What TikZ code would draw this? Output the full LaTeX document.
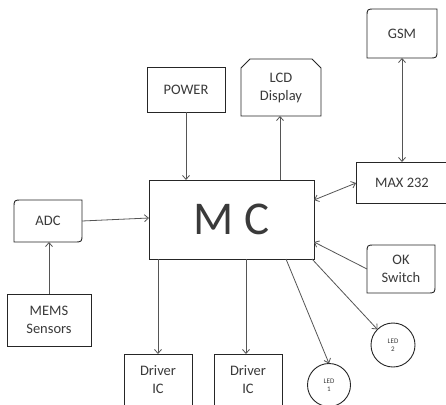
\documentclass[tikz,border=0pt]{standalone}
\usepackage{fontspec}
\setmainfont{Carlito}
\usetikzlibrary{arrows.meta,calc}
\definecolor{txt}{HTML}{3A3A3A}
\definecolor{ln}{HTML}{555555}
\definecolor{bd}{HTML}{262626}
\begin{document}
\begin{tikzpicture}[x=1pt,y=-1pt,
  lbl/.style={text=txt,font=\fontsize{14.5}{18}\selectfont,align=center,inner sep=0pt,outer sep=0pt},
  box/.style={lbl,draw=bd,line width=0.9pt,fill=white},
  plain/.style={lbl},
  outline/.style={draw=bd,line width=0.9pt},
  led/.style={circle,draw=bd,line width=0.9pt,text=txt,font=\fontsize{7}{8.5}\selectfont,align=center,inner sep=0pt,outer sep=0pt,minimum size=44pt},
  arr/.style={draw=ln,line width=0.8pt,-{Straight Barb[length=4pt,width=7pt]}},
  darr/.style={draw=ln,line width=0.8pt,{Straight Barb[length=4pt,width=7pt]}-{Straight Barb[length=4pt,width=7pt]}}
]
\useasboundingbox (0,0) rectangle (446,404);
\fill[white] (0,0) rectangle (446,404);

% rectangular boxes
\node[box,minimum width=78pt,minimum height=45pt] (power) at (186,89.5) {POWER};
\node[box,minimum width=92pt,minimum height=41pt] (max) at (402,182.5) {MAX 232};
\node[box,minimum width=165pt,minimum height=79pt,font=\fontsize{47}{50}\selectfont] (mc) at (231.5,219.5) {M C};
\node[box,minimum width=84pt,minimum height=52pt] (mems) at (49,320) {MEMS\\Sensors};
\node[box,minimum width=68pt,minimum height=52pt] (d1) at (158,380) {Driver\\IC};
\node[box,minimum width=68pt,minimum height=52pt] (d2) at (248,380) {Driver\\IC};

% shaped boxes (text nodes + outlines)
\node[plain,minimum width=80pt,minimum height=57pt] (lcd) at (281,87.5) {LCD\\Display};
\draw[outline] (lcd.south west) -- ($(lcd.north west)+(0,9)$) -- ($(lcd.north west)+(9,0)$)
  -- ($(lcd.north east)+(-9,0)$) -- ($(lcd.north east)+(0,9)$) -- (lcd.south east) -- cycle;

\node[plain,minimum width=70pt,minimum height=49pt] (gsm) at (402,33.5) {GSM};
\draw[outline] ($(gsm.north west)+(0,8)$) .. controls (gsm.north west) .. ($(gsm.north west)+(8,0)$)
  -- (gsm.north east) -- ($(gsm.south east)+(0,-8)$) .. controls (gsm.south east) .. ($(gsm.south east)+(-8,0)$)
  -- (gsm.south west) -- cycle;

\node[plain,minimum width=68pt,minimum height=42pt] (adc) at (48,221) {ADC};
\draw[outline] ($(adc.north west)+(0,8)$) .. controls (adc.north west) .. ($(adc.north west)+(8,0)$)
  -- (adc.north east) -- ($(adc.south east)+(0,-8)$) .. controls (adc.south east) .. ($(adc.south east)+(-8,0)$)
  -- (adc.south west) -- cycle;

\node[plain,minimum width=68pt,minimum height=48pt] (ok) at (401,269) {OK\\Switch};
\draw[outline] ($(ok.north west)+(0,8)$) .. controls (ok.north west) .. ($(ok.north west)+(8,0)$)
  -- (ok.north east) -- ($(ok.south east)+(0,-8)$) .. controls (ok.south east) .. ($(ok.south east)+(-8,0)$)
  -- (ok.south west) -- cycle;

% LEDs
\node[led] (led2) at (393,345) {LED\\2};
\node[led,minimum size=43pt] (led1) at (329,385) {LED\\1};

% connector end points on MC
\coordinate (lcdin) at ($(mc.north west)+(131,0)$);
\coordinate (d2out) at ($(mc.south west)+(97,0)$);
\coordinate (maxp) at ($(mc.north east)+(0,20)$);
\coordinate (adcp) at ($(mc.north west)+(0,38)$);
\coordinate (led1p) at ($(mc.south east)+(-28,0)$);
\coordinate (led2p) at ($(mc.south east)+(-2,0)$);
\coordinate (okp) at ($(mc.north east)+(0,62)$);
\coordinate (maxin) at ($(max.north west)+(0,21)$);

% connectors
\draw[arr] (power.south) -- (power.south |- mc.north);
\draw[arr] (lcdin) -- (lcdin |- lcd.south);
\draw[darr] (gsm.south) -- (gsm.south |- max.north);
\draw[darr] (maxp) -- (maxin);
\draw[arr] (adc.east) -- (adcp);
\draw[arr] (mems.north) -- (mems.north |- adc.south);
\draw[arr] (d1.north |- mc.south) -- (d1.north);
\draw[arr] (d2out) -- (d2out |- d2.north);
\draw[arr] (led1p) -- (led1.north);
\draw[arr] (led2p) -- (led2.north west);
\draw[arr] (ok.west) -- (okp);
\end{tikzpicture}
\end{document}
